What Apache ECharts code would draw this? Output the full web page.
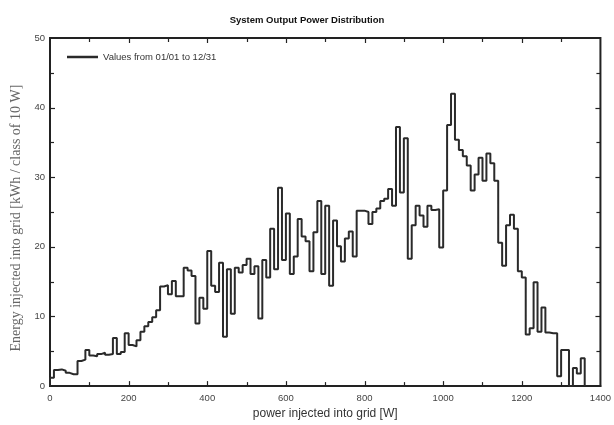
<!DOCTYPE html>
<html>
<head>
<meta charset="utf-8">
<title>System Output Power Distribution</title>
<script src="https://cdn.jsdelivr.net/npm/echarts@6/dist/echarts.min.js"></script>
<style>
  html, body { margin: 0; padding: 0; background: #fff; }
  #chart { width: 614px; height: 425px; }
</style>
</head>
<body>
<div id="chart"></div>
<script>
// classes of 10 W, starting at 0 W
var classWidth = 10;
// energy per class [kWh]
var energy = [
  1.2, 2.3, 2.4, 2.2, 1.9, 1.7, 1.7, 3.6, 3.8, 5.2,
  4.4, 4.3, 4.6, 4.8, 4.5, 4.6, 6.9, 4.6, 4.9, 7.6,
  5.9, 5.7, 6.6, 7.8, 8.6, 9.2, 9.9, 10.9, 14.3, 14.5,
  13.2, 15.1, 12.9, 12.9, 17.0, 16.6, 15.8, 9.0, 12.7, 11.1,
  19.4, 14.4, 13.5, 17.7, 7.1, 16.8, 10.4, 17.0, 16.3, 17.4,
  18.3, 16.1, 17.2, 9.7, 18.1, 15.6, 22.6, 16.8, 28.5, 18.1,
  24.8, 16.1, 18.6, 24.0, 21.5, 20.8, 16.5, 22.1, 26.6, 16.1,
  25.9, 14.4, 23.8, 20.1, 17.9, 21.2, 22.2, 18.6, 25.2, 25.2,
  25.0, 23.3, 25.0, 25.5, 26.6, 26.9, 28.3, 25.9, 37.2, 27.8,
  35.6, 18.3, 23.1, 25.9, 24.5, 22.9, 25.9, 25.3, 25.4, 19.9,
  28.1, 37.5, 42.0, 35.4, 33.9, 33.0, 31.7, 28.1, 30.4, 32.8,
  29.5, 33.4, 32.0, 29.5, 20.6, 17.3, 23.1, 24.6, 22.6, 16.5,
  15.6, 7.4, 8.3, 14.9, 7.8, 11.3, 7.7, 7.6, 7.6, 1.4,
  5.2, 5.2, 0, 2.6, 1.8, 4.0
];
var seriesName = 'Values from 01/01 to 12/31';
// tick positions (labelled ones every 200 W / 10 kWh, small ones in between)
var xTicks = [100, 200, 300, 400, 500, 600, 700, 800, 900, 1000, 1100, 1200, 1300];
var yTicks = [5, 10, 15, 20, 25, 30, 35, 40, 45];

// step outline: each class drawn from its left edge, closed at 0 on both ends
var points = [[0, 0]];
energy.forEach(function (v, i) { points.push([i * classWidth, v]); });
points.push([energy.length * classWidth, 0]);

var chart = echarts.init(document.getElementById('chart'));

var labelStyle = {
  show: true, fontSize: 9.5, color: '#444', fontFamily: 'Liberation Sans',
  formatter: function (v) { return String(v); }
};

chart.setOption({
  animation: false,
  title: {
    text: 'System Output Power Distribution',
    left: 'center',
    top: 10,
    textStyle: { fontSize: 9.5, fontWeight: 'bold', color: '#111', fontFamily: 'Liberation Sans' }
  },
  legend: {
    left: 62,
    top: 47,
    icon: 'rect',
    itemWidth: 31,
    itemHeight: 2.5,
    itemGap: 10,
    data: [seriesName],
    textStyle: { fontSize: 9.5, color: '#333', fontFamily: 'Liberation Sans' }
  },
  grid: {
    left: 50, right: 10, top: 38, bottom: 33,
    show: true, borderColor: '#222', borderWidth: 2
  },
  xAxis: {
    type: 'value', min: 0, max: 1400, interval: 200,
    axisLine: { show: true, lineStyle: { color: '#222', width: 2 } },
    axisTick: { show: false },
    splitLine: { show: false },
    axisLabel: Object.assign({ margin: 7 }, labelStyle),
    name: 'power injected into grid [W]',
    nameLocation: 'middle', nameGap: 16,
    nameTextStyle: { fontSize: 12, color: '#333', fontFamily: 'Liberation Sans' }
  },
  yAxis: {
    type: 'value', min: 0, max: 50, interval: 10,
    axisLine: { show: true, lineStyle: { color: '#222', width: 2 } },
    axisTick: { show: false },
    splitLine: { show: false },
    axisLabel: Object.assign({ margin: 5 }, labelStyle),
    name: 'Energy injected into grid [kWh / class of 10 W]',
    nameLocation: 'middle', nameGap: 23,
    nameTextStyle: { fontSize: 14, color: '#666', fontFamily: 'Liberation Serif', padding: [0, 0, 0, -12] }
  },
  series: [
    {
      name: seriesName,
      type: 'line',
      step: 'end',
      symbol: 'none',
      lineStyle: { color: '#2a2a2a', width: 2 },
      itemStyle: { color: '#2a2a2a' },
      data: points
    }
  ]
});

// inward ticks on all four sides of the frame, placed through the axes
(function () {
  function px(v) { return chart.convertToPixel({ xAxisIndex: 0 }, v); }
  function py(v) { return chart.convertToPixel({ yAxisIndex: 0 }, v); }
  var plotLeft = px(0), plotRight = px(1400), plotTop = py(50), plotBottom = py(0);
  var tickEls = [];
  function tick(x1, y1, x2, y2) {
    tickEls.push({
      type: 'line', silent: true, z: 10,
      shape: { x1: x1, y1: y1, x2: x2, y2: y2 },
      style: { stroke: '#222', lineWidth: 1.2 }
    });
  }
  xTicks.forEach(function (v) {
    var len = v % 200 === 0 ? 5 : 4;
    var x = Math.round(px(v)) + 0.5;
    tick(x, plotBottom, x, plotBottom - len);
    tick(x, plotTop, x, plotTop + len);
  });
  yTicks.forEach(function (v) {
    var len = v % 10 === 0 ? 5 : 4;
    var y = Math.round(py(v)) + 0.5;
    tick(plotLeft, y, plotLeft + len, y);
    tick(plotRight, y, plotRight - len, y);
  });
  chart.setOption({ graphic: { elements: tickEls } });
})();
</script>
</body>
</html>
